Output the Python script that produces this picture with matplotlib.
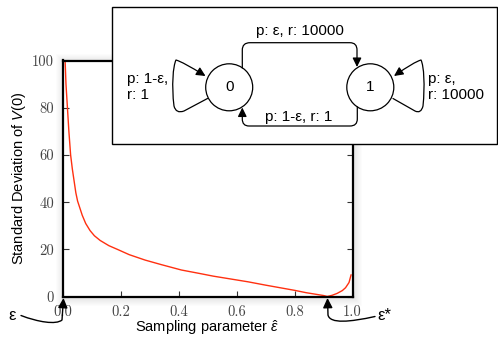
"""
Standard deviation of V(0) against the sampling parameter, with the
two-state MDP sketched in a box over the top right of the plot.
"""

import matplotlib
matplotlib.use("Agg")
import matplotlib.pyplot as plt
from matplotlib.patches import Rectangle, Circle, FancyArrowPatch
from matplotlib.path import Path

plt.rcParams['font.family'] = ['Liberation Sans', 'DejaVu Sans']
plt.rcParams['mathtext.fontset'] = 'custom'
plt.rcParams['mathtext.rm'] = 'Liberation Sans'
plt.rcParams['mathtext.it'] = 'Liberation Sans:italic'

## Data
eps_hat = [0.009, 0.012, 0.017, 0.022, 0.028, 0.034, 0.040, 0.046, 0.052,
           0.060, 0.068, 0.080, 0.095, 0.110, 0.130, 0.160, 0.190, 0.230,
           0.285, 0.340, 0.410, 0.470, 0.520, 0.580, 0.640, 0.700, 0.750,
           0.800, 0.840, 0.880, 0.900, 0.913, 0.930, 0.947, 0.965, 0.976,
           0.988, 0.995]
std_v0 = [100.0, 90.0, 80.0, 70.0, 60.0, 54.0, 49.0, 44.0, 40.5,
          37.5, 34.5, 31.0, 28.0, 25.8, 23.8, 21.6, 20.0, 17.8,
          15.5, 13.6, 11.3, 9.9, 8.7, 7.5, 6.3, 4.9, 3.8,
          2.7, 1.7, 0.9, 0.5, 0.1, 0.6, 1.4, 2.6, 3.8,
          6.0, 9.2]

x_ticks = [0.0, 0.2, 0.4, 0.6, 0.8, 1.0]
x_tick_labels = ['0.0', '0.2', '0.4', '0.6', '0.8', '1.0']
y_ticks = [0, 20, 40, 60, 80, 100]
y_tick_labels = ['0', '20', '40', '60', '80', '100']

## Figure & main axes
W, H = 498, 337
AX_L, AX_B, AX_W, AX_H = 62.5, H - 296.7, 290, 236.2   # pixels
fig = plt.figure(figsize=(W / 100, H / 100), dpi=100)

# soft drop shadow behind the plot frame
bg = fig.add_axes([0, 0, 1, 1], zorder=0)
bg.set_xlim(0, W)
bg.set_ylim(0, H)
bg.axis('off')
for k in range(1, 9):
    bg.add_patch(Rectangle((AX_L - k + 1, AX_B - k - 1), AX_W + 2 * k, AX_H + 2 * k,
                           facecolor='#000000', edgecolor='none', alpha=0.012))

ax = fig.add_axes([AX_L / W, AX_B / H, AX_W / W, AX_H / H], zorder=1)

ax.plot(eps_hat, std_v0, color='#ff3010', lw=1.0)
ax.set_xlim(0, 1)
ax.set_ylim(0, 100)

ax.set_xticks(x_ticks)
ax.set_xticklabels(x_tick_labels, fontfamily='cmr10', fontsize=10.5, color='#444444')
ax.set_yticks(y_ticks)
ax.set_yticklabels(y_tick_labels, fontfamily='cmr10', fontsize=10.5, color='#444444')
ax.tick_params(direction='in', length=4, width=0.8, top=True, right=True,
               color='#333333')
ax.tick_params(axis='x', pad=6)
ax.tick_params(axis='y', pad=6)
for sp in ax.spines.values():
    sp.set_linewidth(1.6)

ax.set_xlabel(r'Sampling parameter $\hat{\varepsilon}$', fontsize=10.5, labelpad=-0.5)
ax.set_ylabel(r'Standard Deviation of $\mathit{V(0)}$', fontsize=10.5, labelpad=3)

## Overlay in pixel coordinates: the MDP box and the two pointer arrows
ov = fig.add_axes([0, 0, 1, 1], zorder=2)
ov.set_xlim(0, W)
ov.set_ylim(H, 0)
ov.axis('off')
ov.patch.set_alpha(0)

ov.add_patch(Rectangle((112, 7.3), 384.7, 137, facecolor='white',
                       edgecolor='black', lw=1.0))

c0, c1, r = (229.2, 87.3), (370.3, 87.3), 23.5
for c, name in [(c0, '0'), (c1, '1')]:
    ov.add_patch(Circle(c, r, facecolor='white', edgecolor='black', lw=0.9))
    ov.text(c[0], c[1], name, ha='center', va='center', fontsize=11)

M, L, C = Path.MOVETO, Path.LINETO, Path.CURVE3
C4 = Path.CURVE4
arr = '-|>,head_length=0.45,head_width=0.22'


def draw_path(verts, codes, ms=12, lw=0.9):
    ov.add_patch(FancyArrowPatch(path=Path(verts, codes), arrowstyle=arr,
                                 mutation_scale=ms, color='black', lw=lw))


# 0 -> 1 over the top
draw_path([(242.3, 68), (242.3, 50), (242.3, 42.7), (250, 42.7), (350, 42.7),
           (357, 42.7), (357, 50), (357, 67)],
          [M, L, C, C, L, C, C, L])
# 1 -> 0 along the bottom
draw_path([(357.3, 107), (357.3, 119), (357.3, 126), (350, 126), (249, 126),
           (242.3, 126), (242.3, 119), (242.3, 107.5)],
          [M, L, C, C, L, C, C, L])
# self loop on 0
draw_path([(207.5, 98.5), (184, 111), (176, 114), (174, 106),
           (171.5, 86), (173, 66), (176, 60), (183, 62), (205.5, 76)],
          [M, L, C, C, C4, C4, C4, C, C])
# self loop on 1
draw_path([(393, 98.5), (415, 111), (421, 114), (423, 106),
           (425, 86), (424, 66), (421, 60), (414, 62), (394, 76)],
          [M, L, C, C, C4, C4, C4, C, C])

ov.text(300, 31.5, 'p: ε, r: 10000', ha='center', va='center', fontsize=11)
ov.text(298.3, 117.5, 'p: 1-ε, r: 1', ha='center', va='center', fontsize=11)
ov.text(126.7, 87, 'p: 1-ε,\nr: 1', ha='left', va='center', fontsize=11,
        linespacing=1.15)
ov.text(428.3, 87, 'p: ε,\nr: 10000', ha='left', va='center', fontsize=11,
        linespacing=1.15)

# pointers to epsilon and epsilon*
draw_path([(21, 315.5), (38, 322), (56, 325), (62, 320), (63.5, 298)],
          [M, C4, C4, C4, L], ms=13, lw=1.0)
draw_path([(375, 316.5), (350, 322), (330, 324), (328, 315), (327.5, 298)],
          [M, C4, C4, C4, L], ms=13, lw=1.0)
ov.text(12, 316, 'ε', ha='center', va='center', fontsize=12)
ov.text(377, 316, 'ε*', ha='left', va='center', fontsize=12)

fig.savefig('out.png', dpi=100)
